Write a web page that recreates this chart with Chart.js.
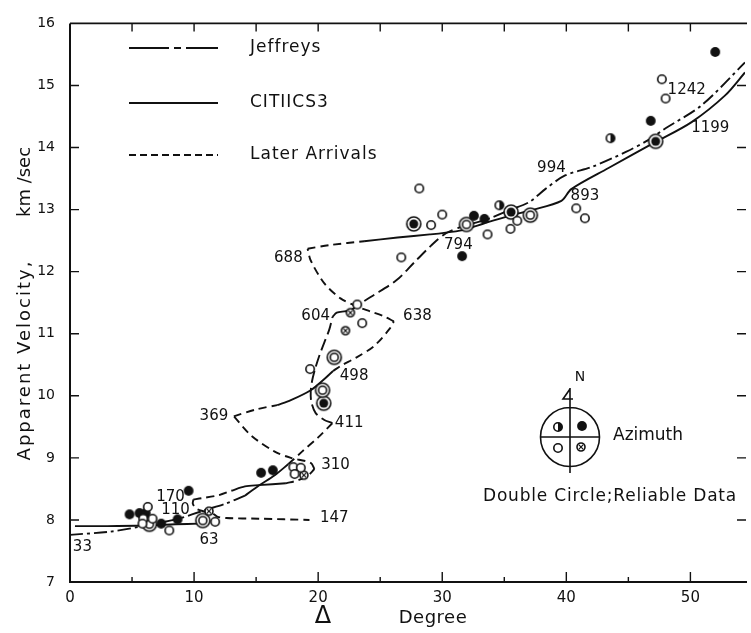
<!DOCTYPE html>
<html>
<head>
<meta charset="utf-8">
<title>Apparent velocity against distance</title>
<script src="https://cdn.jsdelivr.net/npm/chart.js@4.4.0/dist/chart.umd.min.js"></script>
<style>
  html, body { margin: 0; padding: 0; background: #fff; }
</style>
</head>
<body>
<canvas id="chart" width="751" height="633"></canvas>
<script>
const FONT = "'DejaVu Sans', sans-serif";
const INK = "#111";

// axes
const xTickValues = [0, 10, 20, 30, 40, 50];
const xMinorTicks = [5, 15, 25, 35, 45];
const yTickValues = [7, 8, 9, 10, 11, 12, 13, 14, 15, 16];

const jeffreysLow = [[0, 7.76], [3.2, 7.81], [5.6, 7.89], [7.1, 7.95], [8.75, 8.02], [10.9, 8.16], [12.5, 8.26], [14.1, 8.39]];
const jeffreysRise = [[14.1, 8.39], [15.2, 8.55], [16.5, 8.72], [17.6, 8.9]];
const rampTo411 = [[17.6, 8.9], [18.7, 9.1], [20.0, 9.33], [21.15, 9.56]];
const back411to604 = [[21.15, 9.56], [20.5, 9.61], [19.8, 9.72], [19.45, 9.9], [19.4, 10.06], [19.5, 10.23], [19.75, 10.43], [20.1, 10.65], [20.5, 10.86], [20.9, 11.07], [21.15, 11.27]];
const hook604 = [[21.15, 11.27], [21.5, 11.34], [22.1, 11.36], [22.6, 11.37]];
const riseTo794 = [[22.6, 11.37], [23.2, 11.46], [24.3, 11.6], [26.3, 11.86], [27.7, 12.14], [29.1, 12.42], [30.3, 12.62], [31.5, 12.72], [32.3, 12.77]];
const jeffreysHigh = [[32.3, 12.77], [33.6, 12.84], [35.4, 12.99], [37.0, 13.12], [38.3, 13.33], [39.9, 13.55], [42.1, 13.69], [44.8, 13.93], [46.6, 14.12], [48.0, 14.31], [50.9, 14.68], [54.4, 15.37]];

// CIT11CS3 branches
const cit33to63 = [[0.4, 7.9], [3, 7.9], [6, 7.91], [8.5, 7.93], [10.4, 7.94]];
const later147 = [[11.55, 8.1], [11.9, 8.05], [12.6, 8.03], [15.2, 8.02], [19.3, 8.0]];
const cusp170Down = [[10.9, 8.13], [10.2, 8.18], [9.9, 8.26], [9.95, 8.33]];
const later170 = [[9.95, 8.33], [10.6, 8.35], [12.0, 8.4], [13.0, 8.47]];
const cit170to310 = [[13.0, 8.47], [14.1, 8.54], [15.2, 8.56], [17.4, 8.59]];
const later310 = [[17.4, 8.59], [18.4, 8.64], [19.2, 8.72], [19.7, 8.82]];
const back310to369 = [[19.7, 8.82], [19.4, 8.92], [17.8, 9.0], [16.5, 9.1], [14.6, 9.36], [13.2, 9.67]];
const later369 = [[13.2, 9.67], [15.0, 9.78], [16.7, 9.85]];
const cit369to498 = [[16.7, 9.85], [17.8, 9.93], [19.4, 10.09], [20.5, 10.27], [21.2, 10.4]];
const later498to638 = [[21.2, 10.4], [21.8, 10.48], [23.1, 10.62], [24.5, 10.8], [25.8, 11.09], [26.1, 11.2]];
const back638to688 = [[26.1, 11.2], [25.3, 11.28], [24.2, 11.36], [23.1, 11.44], [21.8, 11.57], [20.5, 11.81], [19.4, 12.18], [19.15, 12.37]];
const later688 = [[19.15, 12.37], [21.0, 12.43], [23.7, 12.49]];
const cit688up = [[23.7, 12.49], [26.4, 12.55], [29.0, 12.6], [31.1, 12.65], [32.0, 12.69], [33.4, 12.78], [35.4, 12.9], [37.2, 12.99], [39.6, 13.14], [40.4, 13.33], [43.4, 13.67], [47.2, 14.09], [50.1, 14.41], [52.8, 14.84], [54.4, 15.21]];

// observations by symbol
const openObs = [[6.27, 8.21], [5.9, 8.02], [6.65, 8.02], [5.84, 7.94], [8.0, 7.83], [11.7, 7.97], [18.0, 8.85], [18.6, 8.84], [18.1, 8.74], [19.35, 10.43], [23.15, 11.47], [23.55, 11.17], [26.7, 12.23], [28.15, 13.34], [29.1, 12.75], [30.0, 12.92], [33.65, 12.6], [35.5, 12.69], [36.05, 12.82], [40.8, 13.02], [41.5, 12.86], [47.7, 15.1], [48.0, 14.79]];
const filledObs = [[4.8, 8.09], [5.6, 8.11], [6.1, 8.11], [7.35, 7.94], [8.67, 8.01], [9.56, 8.47], [15.4, 8.76], [16.35, 8.8], [31.6, 12.25], [32.55, 12.9], [33.4, 12.85], [46.8, 14.43], [52.0, 15.54]];
const halfObs = [[34.6, 13.07], [43.56, 14.15]];
const crossObs = [[11.2, 8.14], [18.85, 8.72], [22.6, 11.34], [22.2, 11.05]];
const doubleOpenObs = [[6.4, 7.93], [10.7, 7.99], [21.3, 10.62], [20.35, 10.09], [31.95, 12.76], [37.1, 12.91]];
const doubleFilledObs = [[20.45, 9.88], [27.7, 12.77], [35.55, 12.96], [47.2, 14.1]];

// depth labels along the curves
const depthLabels = ["33", "63", "110", "170", "147", "310", "369", "411", "498", "604", "638", "688", "794", "994", "893", "1242", "1199"];
const depthLabelX = [1.0, 11.2, 8.5, 8.1, 21.3, 21.4, 11.6, 22.5, 22.9, 19.8, 28.0, 17.6, 31.3, 38.8, 41.5, 49.7, 51.6];
const depthLabelY = [7.56, 7.68, 8.16, 8.37, 8.03, 8.88, 9.68, 9.56, 10.31, 11.28, 11.28, 12.22, 12.43, 13.67, 13.21, 14.92, 14.32];

const SOLID = [];
const DASH_DOT = [13, 4, 3, 4];
const LONG_DASH = [12, 5];
const SHORT_DASH = [8, 5];

const toXY = (pts) => pts.map(([x, y]) => ({ x, y }));

function curve(points, dash) {
  return {
    data: toXY(points),
    showLine: true,
    borderColor: INK,
    borderWidth: 1.9,
    borderDash: dash,
    borderCapStyle: "butt",
    tension: 0.3,
    pointRadius: 0,
    order: 2
  };
}

function symbol(kind) {
  const size = kind.startsWith("double") ? 18 : 12;
  const c = document.createElement("canvas");
  c.width = c.height = size;
  const g = c.getContext("2d");
  const m = size / 2;
  g.lineWidth = 1.6;
  g.strokeStyle = INK;
  const ring = (r, fill) => {
    g.beginPath();
    g.arc(m, m, r, 0, Math.PI * 2);
    g.fillStyle = fill;
    g.fill();
    g.stroke();
  };
  const disc = (r) => {
    g.beginPath();
    g.arc(m, m, r, 0, Math.PI * 2);
    g.fillStyle = INK;
    g.fill();
  };
  if (kind === "open") ring(4.2, "#fff");
  if (kind === "filled") disc(4.9);
  if (kind === "half") {
    ring(4.2, "#fff");
    g.beginPath();
    g.arc(m, m, 4.2, -Math.PI / 2, Math.PI / 2);
    g.closePath();
    g.fillStyle = INK;
    g.fill();
  }
  if (kind === "cross") {
    ring(4, "#fff");
    g.lineWidth = 1.2;
    g.beginPath();
    g.moveTo(m - 2.3, m - 2.3); g.lineTo(m + 2.3, m + 2.3);
    g.moveTo(m + 2.3, m - 2.3); g.lineTo(m - 2.3, m + 2.3);
    g.stroke();
  }
  if (kind === "doubleOpen") { ring(7, "#fff"); ring(4, "#fff"); }
  if (kind === "doubleFilled") { ring(7, "#fff"); disc(4.5); }
  return c;
}

const symbols = {};
["open", "filled", "half", "cross", "doubleOpen", "doubleFilled"].forEach((k) => { symbols[k] = symbol(k); });

function marks(points, kind) {
  return {
    data: toXY(points),
    showLine: false,
    pointStyle: symbols[kind],
    pointRadius: 5,
    order: 1
  };
}

function drawLegendLine(ctx, y, dash) {
  ctx.save();
  ctx.beginPath();
  ctx.rect(129, y - 4, 89, 8);
  ctx.clip();
  ctx.setLineDash(dash);
  ctx.lineWidth = 1.9;
  ctx.strokeStyle = INK;
  ctx.beginPath();
  ctx.moveTo(129, y);
  ctx.lineTo(240, y);
  ctx.stroke();
  ctx.restore();
}

function text(ctx, str, x, y, size, align, spacing) {
  ctx.save();
  ctx.font = `${size}px ${FONT}`;
  ctx.fillStyle = INK;
  ctx.textAlign = align || "center";
  ctx.textBaseline = "middle";
  if (spacing) ctx.letterSpacing = spacing;
  ctx.fillText(str, x, y);
  ctx.restore();
}

const paper = {
  id: "paper",
  afterDatasetsDraw(chart) {
    const { ctx, scales: { x, y } } = chart;
    depthLabels.forEach((lab, i) => {
      text(ctx, lab, x.getPixelForValue(depthLabelX[i]), y.getPixelForValue(depthLabelY[i]), 15);
    });
  },
  afterDraw(chart) {
    const { ctx, chartArea: a, scales: { x, y } } = chart;
    ctx.save();
    ctx.strokeStyle = INK;
    ctx.lineWidth = 2;
    ctx.beginPath();
    ctx.moveTo(a.left, a.top);
    ctx.lineTo(a.left, a.bottom);
    ctx.lineTo(a.right + 2, a.bottom);
    ctx.stroke();
    ctx.lineWidth = 1.6;
    ctx.beginPath();
    ctx.moveTo(a.left, a.top);
    ctx.lineTo(a.right + 2, a.top);
    ctx.stroke();

    ctx.lineWidth = 1.4;
    ctx.beginPath();
    yTickValues.slice(1, -1).forEach((v) => {
      const py = y.getPixelForValue(v);
      ctx.moveTo(a.left, py); ctx.lineTo(a.left + 9, py);
      ctx.moveTo(a.right - 8, py); ctx.lineTo(a.right + 1, py);
    });
    xTickValues.slice(1).forEach((v) => {
      const px = x.getPixelForValue(v);
      ctx.moveTo(px, a.bottom); ctx.lineTo(px, a.bottom - 10);
      ctx.moveTo(px, a.top); ctx.lineTo(px, a.top + 8);
    });
    xMinorTicks.forEach((v) => {
      const px = x.getPixelForValue(v);
      ctx.moveTo(px, a.bottom); ctx.lineTo(px, a.bottom - 5);
      ctx.moveTo(px, a.top); ctx.lineTo(px, a.top + 8);
    });
    ctx.stroke();
    ctx.restore();

    // line key
    drawLegendLine(ctx, 48, [40, 5, 7, 5]);
    drawLegendLine(ctx, 103, SOLID);
    drawLegendLine(ctx, 155, [7, 4]);
    text(ctx, "Jeffreys", 250, 48, 17, "left", "1px");
    text(ctx, "CITIICS3", 250, 103, 17, "left", "1px");
    text(ctx, "Later Arrivals", 250, 155, 17, "left", "1px");

    // azimuth key
    const cx = 570, cy = 437;
    ctx.save();
    ctx.strokeStyle = INK;
    ctx.lineWidth = 1.6;
    ctx.beginPath();
    ctx.arc(cx, cy, 29.5, 0, Math.PI * 2);
    ctx.moveTo(cx, 388); ctx.lineTo(cx, 473);
    ctx.moveTo(cx - 30, cy); ctx.lineTo(cx + 30, cy);
    ctx.moveTo(cx, 389); ctx.lineTo(cx - 7, 399); ctx.lineTo(cx + 3, 399);
    ctx.stroke();
    ctx.restore();
    ctx.drawImage(symbols.half, 558 - 6, 427 - 6);
    ctx.drawImage(symbols.filled, 582 - 6, 426 - 6);
    ctx.drawImage(symbols.open, 558 - 6, 448 - 6);
    ctx.drawImage(symbols.cross, 581 - 6, 447 - 6);
    text(ctx, "N", 580, 377, 14);
    text(ctx, "Azimuth", 613, 436, 17, "left");
    text(ctx, "Double Circle;Reliable Data", 483, 497, 17, "left", "0.8px");

    // axis titles
    text(ctx, "\u0394", 323, 617, 24);
    text(ctx, "Degree", 433, 618, 18, "center", "0.5px");
    ctx.save();
    ctx.translate(25, 0);
    ctx.rotate(-Math.PI / 2);
    text(ctx, "Apparent Velocity,", -360, 0, 18, "center", "2px");
    text(ctx, "km /sec", -182, 0, 18, "center");
    ctx.restore();
  }
};

new Chart(document.getElementById("chart"), {
  type: "scatter",
  data: {
    datasets: [
      curve(jeffreysLow, DASH_DOT),
      curve(jeffreysRise, SOLID),
      curve(rampTo411, SHORT_DASH),
      curve(back411to604, LONG_DASH),
      curve(hook604, SOLID),
      curve(riseTo794, LONG_DASH),
      curve(jeffreysHigh, DASH_DOT),
      curve(cit33to63, SOLID),
      curve(later147, SHORT_DASH),
      curve(cusp170Down, SHORT_DASH),
      curve(later170, SHORT_DASH),
      curve(cit170to310, SOLID),
      curve(later310, SHORT_DASH),
      curve(back310to369, SHORT_DASH),
      curve(later369, SHORT_DASH),
      curve(cit369to498, SOLID),
      curve(later498to638, SHORT_DASH),
      curve(back638to688, SHORT_DASH),
      curve(later688, SHORT_DASH),
      curve(cit688up, SOLID),
      marks(openObs, "open"),
      marks(filledObs, "filled"),
      marks(halfObs, "half"),
      marks(crossObs, "cross"),
      marks(doubleOpenObs, "doubleOpen"),
      marks(doubleFilledObs, "doubleFilled")
    ]
  },
  options: {
    responsive: false,
    animation: false,
    events: [],
    layout: { padding: { top: 17, right: 0, bottom: 0, left: 0 } },
    plugins: { legend: { display: false }, tooltip: { enabled: false } },
    scales: {
      x: {
        type: "linear",
        min: 0,
        max: 54.4,
        grid: { display: false, drawTicks: false },
        border: { display: false },
        afterBuildTicks: (s) => { s.ticks = xTickValues.map((v) => ({ value: v })); },
        afterFit: (s) => { s.height = 51; },
        ticks: { padding: 7, color: INK, maxRotation: 0, font: { family: FONT, size: 15 } }
      },
      y: {
        type: "linear",
        min: 7,
        max: 16,
        grid: { display: false, drawTicks: false },
        border: { display: false },
        afterBuildTicks: (s) => { s.ticks = yTickValues.map((v) => ({ value: v })); },
        afterFit: (s) => { s.width = 70; },
        ticks: { padding: 15, color: INK, font: { family: FONT, size: 14 } }
      }
    }
  },
  plugins: [paper]
});
</script>
</body>
</html>
